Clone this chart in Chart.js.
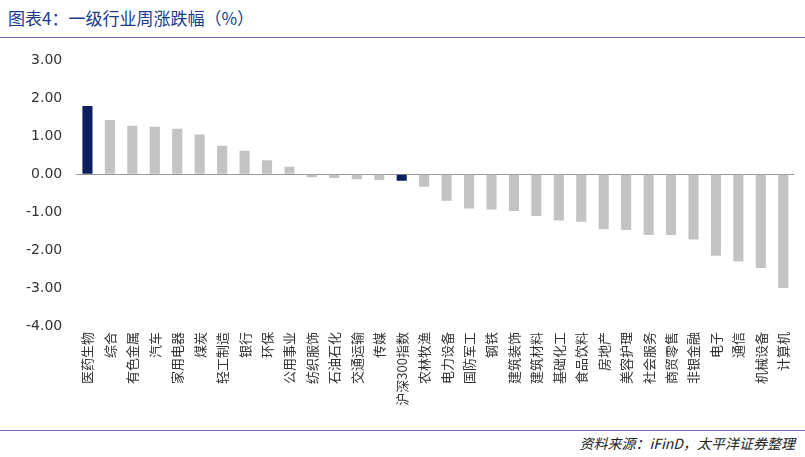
<!DOCTYPE html>
<html><head><meta charset="utf-8">
<script src="https://cdn.jsdelivr.net/npm/chart.js@4"></script>
<style>
body{margin:0;width:805px;height:457px;background:#fff;font-family:"Noto Sans CJK SC",sans-serif;overflow:hidden}
#title{position:absolute;left:8px;top:5px;font-size:17px;color:#1a3a8c}
#top{position:absolute;left:0;top:37px;width:805px;border-top:1px solid #6b6bb0}
#bot{position:absolute;left:0;top:430px;width:805px;border-top:1px solid #6b6bb0}
#src{position:absolute;right:10px;top:433px;font-size:14px;font-style:italic;color:#222}
#wrap{position:absolute;left:0;top:38px;width:805px;height:390px}
</style></head><body>
<div id="title">图表4：一级行业周涨跌幅（%）</div>
<div id="top"></div>
<div id="wrap"><canvas id="c"></canvas></div>
<div id="bot"></div>
<div id="src">资料来源：iFinD，太平洋证券整理</div>
<script>
let categories = ["医药生物","综合","有色金属","汽车","家用电器","煤炭","轻工制造","银行","环保","公用事业","纺织服饰","石油石化","交通运输","传媒","沪深300指数","农林牧渔","电力设备","国防军工","钢铁","建筑装饰","建筑材料","基础化工","食品饮料","房地产","美容护理","社会服务","商贸零售","非银金融","电子","通信","机械设备","计算机"];
let values = [1.80,1.43,1.28,1.25,1.20,1.05,0.75,0.62,0.37,0.20,-0.08,-0.10,-0.13,-0.15,-0.17,-0.33,-0.70,-0.90,-0.93,-0.97,-1.10,-1.22,-1.25,-1.45,-1.47,-1.60,-1.60,-1.72,-2.15,-2.30,-2.47,-3.00];
let highlight = ["医药生物","沪深300指数"];

let ctx = document.getElementById("c").getContext("2d");
new Chart(ctx, {
  type: 'bar',
  data: {
    labels: categories,
    datasets: [{
      data: values,
      backgroundColor: categories.map(c => highlight.includes(c) ? '#0d1f5e' : '#c3c3c3'),
      categoryPercentage: 1,
      barPercentage: 0.45
    }]
  },
  options: {
    responsive: true, maintainAspectRatio: false, animation: false,
    layout: {padding: {top: 9, right: 8, left: 12, bottom: 0}},
    plugins: {legend: {display: false}, tooltip: {enabled: false}},
    scales: {
      x: {
        grid: {display: false, drawTicks: false},
        border: {display: false},
        ticks: {maxRotation: 90, minRotation: 90, autoSkip: false, color: '#333',
          font: {size: 13, family: '"Noto Sans CJK SC"'}, padding: 6},
        afterFit: s => { s.height = 102; }
      },
      y: {
        min: -4, max: 3,
        grid: {drawTicks: false, lineWidth: c => c.tick.value === 0 ? 1 : 0, color: '#999'},
        border: {display: false},
        ticks: {stepSize: 1, color: '#333', padding: 14,
          font: {size: 14, family: '"DejaVu Sans"'},
          callback: v => v.toFixed(2)}
      }
    }
  }
});
</script>
</body></html>
